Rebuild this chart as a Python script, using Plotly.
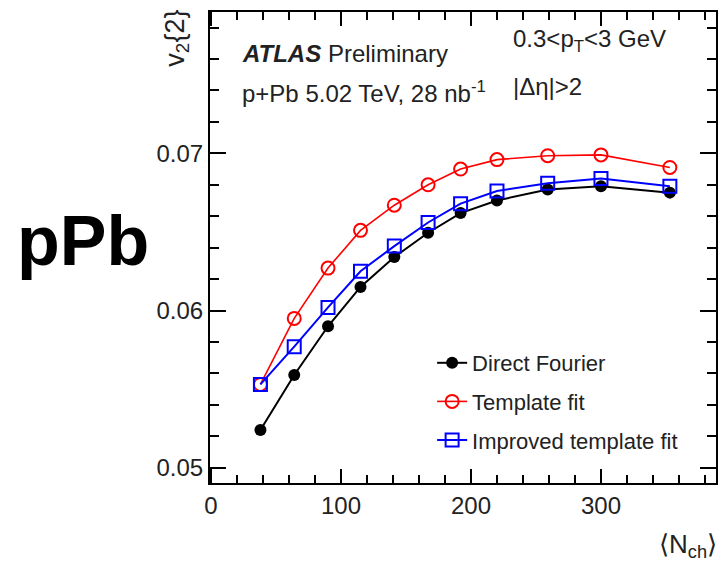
import plotly.graph_objects as go

# <N_ch> bins and v2{2} values for the three extraction methods
nch = [38, 64, 90, 115, 141, 167, 192, 220, 259, 300, 353]
v2_direct = [0.0524, 0.0559, 0.0590, 0.0615, 0.0634, 0.06495, 0.0662, 0.0670, 0.0677, 0.0679, 0.0675]
v2_template = [0.0553, 0.0595, 0.0627, 0.0651, 0.0667, 0.0680, 0.0690, 0.0696, 0.06985, 0.0699, 0.0691]
v2_improved = [0.0553, 0.0577, 0.0602, 0.0625, 0.0641, 0.0656, 0.0668, 0.0676, 0.0681, 0.0684, 0.0679]

FONT = "Liberation Sans, Arial, Helvetica, sans-serif"
W, H = 722, 564
L, R, T, B = 210, 4, 12, 81

fig = go.Figure()

fig.add_trace(go.Scatter(
    x=nch, y=v2_direct, mode="lines+markers", name="Direct Fourier",
    legendgroup="a",
    line=dict(color="black", width=2),
    marker=dict(symbol="circle", size=12, color="black"),
))
fig.add_trace(go.Scatter(
    x=nch, y=v2_template, mode="lines+markers", name="Template fit",
    legendgroup="b",
    line=dict(color="#ff0000", width=1.6),
    marker=dict(symbol="circle-open", size=13, color="#ff0000", line=dict(width=2)),
))
fig.add_trace(go.Scatter(
    x=nch, y=v2_improved, mode="lines+markers", name="Improved template fit",
    legendgroup="c",
    line=dict(color="#0000ff", width=2),
    marker=dict(symbol="square-open", size=13, color="#0000ff", line=dict(width=2)),
))


def px(x):
    return (x - L) / (W - L - R)


def py(y):
    return (H - B - y) / (H - T - B)


axis_common = dict(
    showline=True, linecolor="black", linewidth=2, mirror="allticks",
    ticks="inside", tickcolor="black", tickwidth=2,
    showgrid=False, zeroline=False,
    tickfont=dict(family=FONT, size=24, color="#222222"),
)

fig.update_xaxes(
    range=[-0.8, 388.5], tickvals=[0, 100, 200, 300], ticklen=14,
    minor=dict(dtick=20, tick0=0, ticklen=8, tickwidth=2, tickcolor="black", ticks="inside"),
    **axis_common,
)
fig.update_yaxes(
    range=[0.04903, 0.07899], tickvals=[0.05, 0.06, 0.07], ticktext=["0.05", "0.06", "0.07"],
    ticklen=16,
    minor=dict(dtick=0.002, tick0=0.05, ticklen=9, tickwidth=2, tickcolor="black", ticks="inside"),
    **axis_common,
)


def note(text, x, y, size, xanchor="left", yanchor="middle", **kw):
    return dict(text=text, x=px(x), y=py(y), xref="paper", yref="paper",
                xanchor=xanchor, yanchor=yanchor, showarrow=False,
                font=dict(family=FONT, size=size, color=kw.pop("color", "#222222")), **kw)


annotations = [
    note("<b>pPb</b>", 14, 241, 70, color="black"),
    note("v<sub>2</sub>{2}", 176, 8, 27, xanchor="center", yanchor="top", textangle=-90),
    note("⟨N<sub>ch</sub>⟩", 721, 545, 26, xanchor="right"),
    note("<b><i>ATLAS</i></b> Preliminary", 240, 54, 24),
    note("p+Pb 5.02 TeV, 28 nb<sup>-1</sup>", 240, 92, 24),
    note("0.3&lt;p<sub>T</sub>&lt;3 GeV", 512, 41, 24),
    note("|Δη|&gt;2", 512, 87, 24),
]

fig.update_layout(
    width=W, height=H,
    margin=dict(l=L, r=R, t=T, b=B),
    paper_bgcolor="white", plot_bgcolor="white",
    font=dict(family=FONT, color="#222222"),
    annotations=annotations,
    showlegend=True,
    legend=dict(
        x=px(433), y=py(342), xanchor="left", yanchor="top",
        bgcolor="rgba(0,0,0,0)", borderwidth=0,
        font=dict(family=FONT, size=22, color="#222222"),
        traceorder="grouped", tracegroupgap=7,
    ),
)

fig.write_html("out.html")
